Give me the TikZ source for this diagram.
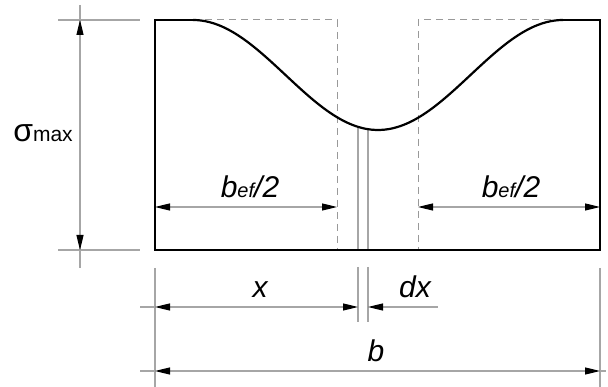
\documentclass[tikz,border=0pt]{standalone}
\usepackage{fontspec}
\setmainfont{Liberation Sans}
\usetikzlibrary{arrows.meta}

\newcommand{\befhalf}{{\fontsize{30}{30}\selectfont\itshape b}{\fontsize{20}{20}\selectfont\itshape ef}{\fontsize{30}{30}\selectfont\itshape /2}}

\begin{document}
\begin{tikzpicture}[
    x=1pt, y=-1pt,
    tip/.tip={Triangle[length=15pt,width=7pt,black]},
    edge/.style={draw=black, line width=2.2pt},
    hidden/.style={draw=gray!80, line width=1pt, dash pattern=on 7pt off 5pt},
    thinline/.style={draw=gray!70, line width=1.2pt},
    dim/.style={thinline, tip-tip},
    lbl/.style={anchor=base, inner sep=0pt, font=\fontsize{30}{30}\selectfont\itshape}
  ]
    \useasboundingbox (0,0) rectangle (608,387);

    % corners of the section
    \coordinate (tl) at (155,20);
    \coordinate (bl) at (155,250);
    \coordinate (br) at (600,250);
    \coordinate (tr) at (600,20);
    \coordinate (cl) at (193,20);
    \coordinate (cr) at (563,20);

    % effective width limits
    \draw[hidden] (cl) -- (337,20) -- (337,250);
    \draw[hidden] (cr) -- (418,20) -- (418,250);

    % strip dx
    \draw[thinline] (358,127) -- (358,250);
    \draw[thinline] (368,129.3) -- (368,250);

    % section and stress curve
    \draw[edge] (cl) -- (tl) -- (bl) -- (br) -- (tr) -- (cr);
    \draw[edge] plot[domain=193:563, samples=90, smooth] (\x,{75-55*cos(0.97297*(\x-193))});

    % sigma_max
    \draw[thinline] (58,20) -- (140,20);
    \draw[thinline] (58,250) -- (140,250);
    \draw[thinline] (80,5) -- (80,268);
    \draw[dim] (80,20) -- (80,250);
    \node[anchor=base, inner sep=0pt] (smax) at (43,142)
      {{\fontsize{32}{32}\selectfont σ}{\fontsize{21}{21}\selectfont max}};

    % b_ef/2
    \draw[dim] (155,207) -- (337,207);
    \draw[dim] (418,207) -- (600,207);
    \node[anchor=base, inner sep=0pt] (befl) at (250,198) {\befhalf};
    \node[anchor=base, inner sep=0pt] (befr) at (511,198) {\befhalf};

    % extension lines below
    \draw[thinline] (155,268) -- (155,387);
    \draw[thinline] (600,268) -- (600,387);
    \draw[thinline] (358,267) -- (358,322);
    \draw[thinline] (368,267) -- (368,322);

    % x and dx
    \draw[thinline] (140,307) -- (155,307);
    \draw[dim] (155,307) -- (358,307);
    \draw[thinline, tip-] (368,307) -- (438,307);
    \node[lbl] (xl) at (260,298) {x};
    \node[lbl] (dxl) at (415,298) {dx};

    % b
    \draw[thinline] (140,371) -- (155,371);
    \draw[thinline] (600,371) -- (606,371);
    \draw[dim] (155,371) -- (600,371);
    \node[lbl] (blab) at (376,362) {b};
  \end{tikzpicture}
\end{document}
